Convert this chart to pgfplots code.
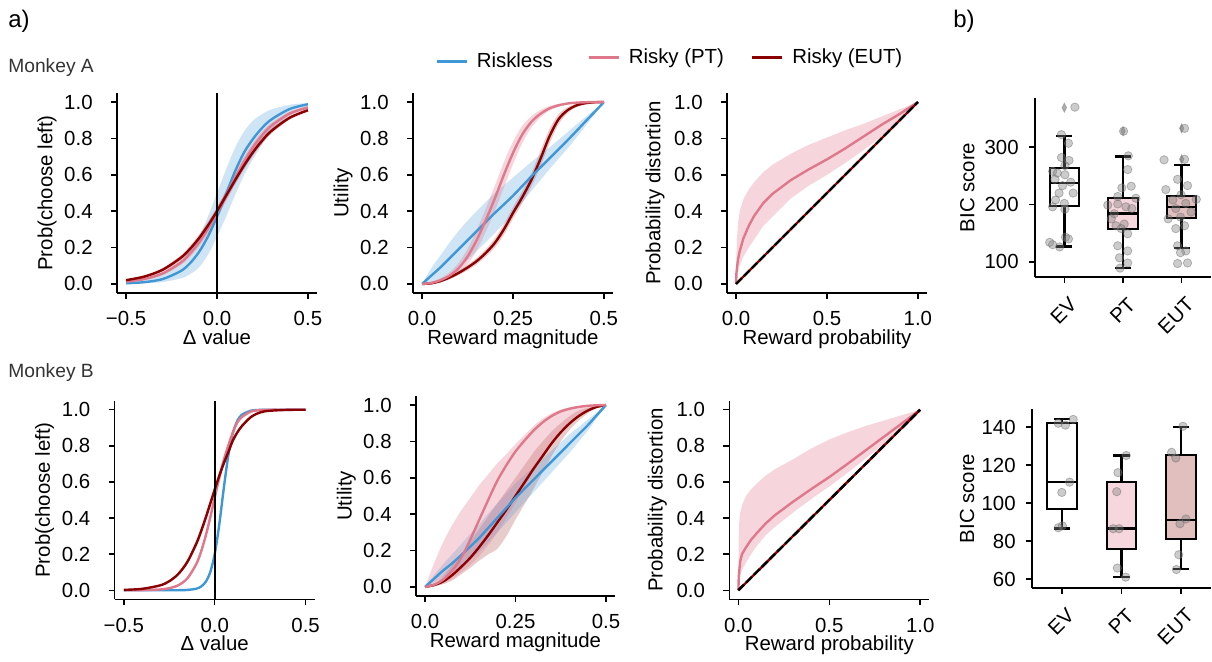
\documentclass[border=0pt]{standalone}
\usepackage{fontspec}
\setmainfont{Liberation Sans}
\usepackage{pgfplots}
\pgfplotsset{compat=1.18}
\usepackage{pgfplotstable}
\usepgfplotslibrary{fillbetween}
\definecolor{cblue}{HTML}{3F97D6}
\definecolor{cpink}{HTML}{E0788C}
\definecolor{cred}{HTML}{8B0000}
\definecolor{cgray}{HTML}{808080}
\newcommand{\fs}{\fontsize{10.2}{12}\selectfont}

\pgfplotstableread{
x blue blo bhi pink plo phi red rlo rhi
-0.5 0.0035 0.001 0.012 0.0125 0.0065 0.0185 0.0205 0.015 0.026
-0.4 0.0096 0.003 0.025 0.027 0.019 0.035 0.0402 0.033 0.047
-0.3 0.0264 0.010 0.055 0.057 0.047 0.067 0.0772 0.0675 0.087
-0.2 0.0703 0.030 0.12 0.117 0.102 0.132 0.143 0.129 0.157
-0.15 0.112 0.052 0.18 0.165 0.146 0.184 0.191 0.175 0.207
-0.1 0.174 0.09 0.26 0.226 0.2035 0.2485 0.250 0.231 0.269
-0.05 0.260 0.16 0.37 0.302 0.276 0.328 0.3206 0.299 0.342
0 0.370 0.26 0.50 0.390 0.361 0.419 0.400 0.377 0.423
0.05 0.495 0.37 0.63 0.486 0.456 0.516 0.4853 0.461 0.509
0.1 0.621 0.49 0.75 0.584 0.555 0.613 0.571 0.547 0.595
0.15 0.725 0.60 0.84 0.675 0.648 0.702 0.653 0.631 0.675
0.2 0.80 0.69 0.90 0.755 0.7315 0.7785 0.727 0.707 0.747
0.25 0.86 0.77 0.935 0.820 0.800 0.840 0.790 0.773 0.807
0.3 0.905 0.835 0.960 0.871 0.855 0.887 0.842 0.827 0.857
0.4 0.962 0.925 0.985 0.937 0.926 0.948 0.914 0.904 0.924
0.5 0.988 0.975 0.995 0.970 0.962 0.978 0.955 0.948 0.962
}\tabAone

\pgfplotstableread{
x blue blo bhi pink plo phi red rlo rhi
0 0 0 0 0 0 0 0 0 0
0.025 0.045 0.005 0.085 0.005 0.0 0.011 0.003 0.001 0.005
0.05 0.09 0.025 0.155 0.02 0.009 0.031 0.015 0.009 0.021
0.075 0.14 0.055 0.225 0.045 0.027 0.063 0.035 0.025 0.045
0.1 0.19 0.09 0.29 0.085 0.055 0.115 0.06 0.047 0.073
0.125 0.24 0.133 0.347 0.15 0.107 0.193 0.09 0.075 0.105
0.15 0.29 0.18 0.40 0.24 0.184 0.296 0.125 0.108 0.142
0.175 0.34 0.23 0.45 0.35 0.286 0.414 0.17 0.15 0.19
0.2 0.39 0.28 0.50 0.47 0.40 0.54 0.225 0.20 0.25
0.225 0.437 0.332 0.542 0.60 0.53 0.67 0.30 0.27 0.33
0.25 0.485 0.385 0.585 0.72 0.658 0.782 0.39 0.359 0.421
0.275 0.537 0.447 0.627 0.82 0.772 0.868 0.475 0.442 0.508
0.3 0.59 0.51 0.67 0.89 0.858 0.922 0.57 0.533 0.607
0.325 0.64 0.57 0.71 0.935 0.914 0.956 0.685 0.642 0.728
0.35 0.69 0.63 0.75 0.965 0.952 0.978 0.81 0.77 0.85
0.375 0.74 0.688 0.792 0.982 0.974 0.99 0.905 0.877 0.933
0.4 0.79 0.745 0.835 0.992 0.988 0.996 0.955 0.939 0.971
0.425 0.842 0.807 0.877 0.997 0.995 0.999 0.982 0.973 0.991
0.45 0.895 0.87 0.92 0.999 0.998 1.0 0.994 0.989 0.999
0.475 0.947 0.934 0.96 1.0 1.0 1.0 0.999 0.997 1.0
0.5 1 1 1 1 1 1 1 1 1
}\tabAtwo

\pgfplotstableread{
x pink plo phi
0 0 0 0
0.002 0.06 0.02 0.17
0.005 0.09 0.04 0.25
0.01 0.13 0.065 0.33
0.02 0.18 0.10 0.40
0.04 0.25 0.15 0.465
0.07 0.32 0.20 0.52
0.1 0.375 0.245 0.56
0.15 0.445 0.32 0.615
0.2 0.495 0.37 0.655
0.3 0.57 0.47 0.715
0.4 0.63 0.54 0.765
0.5 0.685 0.60 0.805
0.6 0.745 0.665 0.845
0.7 0.81 0.735 0.88
0.8 0.875 0.81 0.92
0.9 0.935 0.90 0.96
1 1 1 1
}\tabAthree

\pgfplotstableread{
x blue pink plo phi red rlo rhi
-0.5 0 0.0001 0.0001 0.0001 0.0022 0.002 0.0024
-0.4 0 0.0008 0.0007 0.0009 0.0078 0.007 0.0086
-0.3 0 0.0047 0.0042 0.0052 0.0271 0.0245 0.0297
-0.25 0.0001 0.0115 0.0104 0.0126 0.05 0.0452 0.0548
-0.2 0.0003 0.0279 0.0252 0.0306 0.0903 0.0821 0.0985
-0.15 0.0018 0.066 0.0598 0.0722 0.1578 0.1445 0.1711
-0.1 0.0091 0.148 0.1354 0.1606 0.2612 0.2419 0.2805
-0.075 0.0206 0.214 0.1972 0.2308 0.3268 0.3048 0.3488
-0.05 0.0458 0.2994 0.2784 0.3204 0.4001 0.3761 0.4241
-0.025 0.0988 0.4013 0.3773 0.4253 0.4781 0.4531 0.5031
0 0.2 0.5125 0.4875 0.5375 0.5572 0.5325 0.5819
0.025 0.3633 0.6225 0.599 0.646 0.6336 0.6104 0.6568
0.05 0.5656 0.7211 0.701 0.7412 0.7037 0.6829 0.7245
0.075 0.748 0.8022 0.7863 0.8181 0.7654 0.7474 0.7834
0.1 0.8714 0.875 0.8641 0.8859 0.83 0.8159 0.8441
0.125 0.9393 0.93 0.9235 0.9365 0.875 0.8641 0.8859
0.15 0.9725 0.96 0.9562 0.9638 0.91 0.9018 0.9182
0.2 0.9946 0.99 0.989 0.991 0.96 0.9562 0.9638
0.25 0.999 0.998 0.9978 0.9982 0.985 0.9835 0.9865
0.3 0.9998 1.0 1.0 1.0 0.994 0.9934 0.9946
0.4 1.0 1.0 1.0 1.0 0.999 0.9989 0.9991
0.5 1.0 1.0 1.0 1.0 1.0 1.0 1.0
}\tabBone

\pgfplotstableread{
x blue blo bhi pink plo phi red rlo rhi
0 0 0 0 0 0 0 0 0 0
0.025 0.045 0.025 0.065 0.012 0.005 0.13 0.01 0.004 0.02
0.05 0.09 0.055 0.125 0.04 0.02 0.245 0.03 0.015 0.06
0.075 0.13 0.08 0.18 0.09 0.045 0.34 0.065 0.035 0.12
0.1 0.175 0.115 0.235 0.16 0.08 0.42 0.11 0.07 0.18
0.125 0.222 0.152 0.292 0.26 0.12 0.49 0.16 0.105 0.25
0.15 0.27 0.195 0.345 0.37 0.17 0.56 0.22 0.145 0.32
0.175 0.325 0.245 0.405 0.48 0.23 0.62 0.285 0.18 0.39
0.2 0.38 0.30 0.46 0.585 0.30 0.68 0.355 0.21 0.46
0.225 0.435 0.355 0.515 0.67 0.38 0.73 0.425 0.28 0.53
0.25 0.49 0.41 0.57 0.745 0.46 0.785 0.50 0.37 0.60
0.275 0.54 0.465 0.615 0.805 0.55 0.835 0.575 0.455 0.67
0.3 0.59 0.52 0.66 0.86 0.64 0.885 0.65 0.54 0.74
0.325 0.64 0.575 0.705 0.905 0.72 0.925 0.72 0.63 0.80
0.35 0.69 0.63 0.75 0.94 0.79 0.955 0.79 0.72 0.855
0.375 0.74 0.685 0.795 0.965 0.85 0.975 0.85 0.80 0.90
0.4 0.79 0.74 0.84 0.98 0.9 0.988 0.9 0.865 0.94
0.425 0.84 0.80 0.88 0.99 0.94 0.995 0.94 0.915 0.97
0.45 0.89 0.86 0.92 0.996 0.97 0.999 0.97 0.955 0.985
0.475 0.945 0.93 0.96 0.999 0.99 1.0 0.99 0.985 0.995
0.5 1 1 1 1 1 1 1 1 1
}\tabBtwo

\pgfplotstableread{
x pink plo phi
0 0 0 0
0.002 0.07 0.02 0.30
0.005 0.11 0.05 0.38
0.01 0.16 0.08 0.43
0.02 0.20 0.11 0.47
0.04 0.235 0.15 0.52
0.07 0.28 0.20 0.56
0.1 0.315 0.245 0.59
0.15 0.37 0.305 0.635
0.2 0.415 0.35 0.67
0.3 0.49 0.43 0.725
0.4 0.56 0.505 0.785
0.5 0.627 0.575 0.835
0.6 0.70 0.65 0.875
0.7 0.775 0.73 0.91
0.8 0.85 0.81 0.94
0.9 0.925 0.9 0.97
1 1 1 1
}\tabBthree

\pgfplotsset{
  base/.style={scale only axis, axis lines=left, axis line style={-, line width=0.75pt},
    tick align=outside, major tick length=3pt, tick style={line width=0.75pt, black},
    every tick label/.append style={font=\fs},
    label style={font=\fs},
  },
  curve/.style={base, width=100pt, height=100pt, ymin=-0.05, ymax=1.05,
    xticklabel style={anchor=base, yshift=-13.5pt},
    yticklabel style={anchor=east, inner xsep=0pt, xshift=-9pt},
    ytick={0,0.2,0.4,0.6,0.8,1}, yticklabels={0.0,0.2,0.4,0.6,0.8,1.0},
    ylabel style={at={(axis description cs:-0.35,0.5)}, anchor=center},
    xlabel style={at={(axis description cs:0.5,-0.26)}, anchor=base},
  },
  psy/.style={curve, xmin=-0.55, xmax=0.55, xtick={-0.5,0,0.5}, xticklabels={−0.5,0.0,0.5},
    xlabel={Δ value}, ylabel={Prob(choose left)}},
  uti/.style={curve, xmin=-0.025, xmax=0.525, xtick={0,0.25,0.5}, xticklabels={0.0,0.25,0.5},
    xlabel={Reward magnitude}, ylabel={Utility}},
  prb/.style={curve, xmin=-0.05, xmax=1.05, xtick={0,0.5,1}, xticklabels={0.0,0.5,1.0},
    xlabel={Reward probability}, ylabel={Probability distortion},
    ylabel style={at={(axis description cs:-0.36,0.5)}}},
  bic/.style={base, xmin=-0.5, xmax=2.5, xtick={0,1,2}, xticklabels={EV,PT,EUT},
    xticklabel style={xshift=4.5pt, yshift=-9pt, rotate=45, anchor=east, inner sep=0pt},
    yticklabel style={anchor=east, inner xsep=0pt, xshift=-5pt},
    ylabel={BIC score}},
  ln/.style={line width=1.2pt, smooth, forget plot},
  wk/.style={black, line width=1.25pt, forget plot},
  bxf/.style={draw=black, line width=1pt, forget plot},
  pts/.style={only marks, mark=*, mark size=2.1pt, forget plot,
    mark options={fill=cgray, draw=cgray!85!black, fill opacity=0.4, draw opacity=0.45}},
  outl/.style={only marks, mark=diamond*, mark size=2.2pt, forget plot,
    mark options={xscale=0.65, fill=cgray!80, draw=cgray!80, opacity=0.8}},
  legimg/.style={legend image code/.code={\draw[##1] (0pt,0pt) -- (15pt,0pt);}},
}

\begin{document}
\begin{tikzpicture}
\path (0,0) rectangle (606pt,330pt);

\node[anchor=base west, inner sep=0pt, font=\fontsize{12}{14}\selectfont] at (4pt,316pt) {a)};
\node[anchor=base west, inner sep=0pt, font=\fontsize{12}{14}\selectfont] at (476.5pt,316pt) {b)};
\node[anchor=base west, inner sep=0pt, font=\fontsize{9.6}{11}\selectfont, text=black!80] at (4pt,293.5pt) {Monkey A};
\node[anchor=base west, inner sep=0pt, font=\fontsize{9.6}{11}\selectfont, text=black!80] at (4pt,141pt) {Monkey B};

% ---------- A1
\begin{axis}[psy, at={(58.5pt,183.5pt)}, anchor=south west]
\addplot[name path=bh, draw=none, smooth, forget plot] table[x=x,y=bhi] {\tabAone};
\addplot[name path=bl, draw=none, smooth, forget plot] table[x=x,y=blo] {\tabAone};
\addplot[fill=cblue, fill opacity=0.25, draw=none, forget plot] fill between[of=bh and bl];
\addplot[name path=ph, draw=none, smooth, forget plot] table[x=x,y=phi] {\tabAone};
\addplot[name path=pl, draw=none, smooth, forget plot] table[x=x,y=plo] {\tabAone};
\addplot[fill=cpink, fill opacity=0.3, draw=none, forget plot] fill between[of=ph and pl];
\addplot[name path=rh, draw=none, smooth, forget plot] table[x=x,y=rhi] {\tabAone};
\addplot[name path=rl, draw=none, smooth, forget plot] table[x=x,y=rlo] {\tabAone};
\addplot[fill=cred, fill opacity=0.2, draw=none, forget plot] fill between[of=rh and rl];
\addplot[ln, cblue] table[x=x,y=blue] {\tabAone};
\addplot[ln, cpink] table[x=x,y=pink] {\tabAone};
\addplot[ln, cred] table[x=x,y=red] {\tabAone};
\addplot[black, line width=1pt, forget plot] coordinates {(0,-0.05) (0,1.05)};
\end{axis}

% ---------- A2
\begin{axis}[uti, at={(206.5pt,183.5pt)}, anchor=south west, legimg,
  legend style={draw=none, fill=none, inner sep=0pt, font=\fs, at={(axis description cs:0.11,1.157)}, anchor=west,
   nodes={inner sep=0pt}, /tikz/every odd column/.style={column sep=4.5pt}}]
\addlegendimage{cblue, line width=1.2pt}\addlegendentry{Riskless}
\addplot[name path=rh, draw=none, smooth, forget plot] table[x=x,y=rhi] {\tabAtwo};
\addplot[name path=rl, draw=none, smooth, forget plot] table[x=x,y=rlo] {\tabAtwo};
\addplot[fill=cred, fill opacity=0.2, draw=none, forget plot] fill between[of=rh and rl];
\addplot[ln, cred] table[x=x,y=red] {\tabAtwo};
\addplot[name path=bh, draw=none, smooth, forget plot] table[x=x,y=bhi] {\tabAtwo};
\addplot[name path=bl, draw=none, smooth, forget plot] table[x=x,y=blo] {\tabAtwo};
\addplot[fill=cblue, fill opacity=0.25, draw=none, forget plot] fill between[of=bh and bl];
\addplot[ln, cblue] table[x=x,y=blue] {\tabAtwo};
\addplot[name path=ph, draw=none, smooth, forget plot] table[x=x,y=phi] {\tabAtwo};
\addplot[name path=pl, draw=none, smooth, forget plot] table[x=x,y=plo] {\tabAtwo};
\addplot[fill=cpink, fill opacity=0.3, draw=none, forget plot] fill between[of=ph and pl];
\addplot[ln, cpink] table[x=x,y=pink] {\tabAtwo};
\end{axis}

% ---------- A3
\begin{axis}[prb, at={(363.5pt,183.5pt)}, anchor=south west, legimg,
  legend columns=2,
  legend style={draw=none, fill=none, inner sep=0pt, font=\fs, at={(axis description cs:-0.70,1.178)}, anchor=west,
   nodes={inner sep=0pt}, /tikz/every odd column/.style={column sep=4.5pt}, /tikz/every even column/.style={column sep=13.5pt}}]
\addlegendimage{cpink, line width=1.2pt}\addlegendentry{Risky (PT)}
\addlegendimage{cred, line width=1.2pt}\addlegendentry{Risky (EUT)}
\addplot[name path=ph, draw=none, forget plot] table[x=x,y=phi] {\tabAthree};
\addplot[name path=pl, draw=none, forget plot] table[x=x,y=plo] {\tabAthree};
\addplot[fill=cpink, fill opacity=0.3, draw=none, forget plot] fill between[of=ph and pl];
\addplot[cpink, line width=1.2pt, forget plot] table[x=x,y=pink] {\tabAthree};
\addplot[cred, line width=1.2pt, forget plot] coordinates {(0,0) (1,1)};
\addplot[black, line width=1.2pt, dash pattern=on 4pt off 1.5pt, forget plot] coordinates {(0,0) (1,1)};
\end{axis}

% ---------- A4
\begin{axis}[bic, at={(517.5pt,191.5pt)}, anchor=south west, width=88pt, height=89.5pt,
  ymin=73.5, ymax=386, ytick={100,200,300}, yticklabels={100,200,300},
  ylabel style={at={(axis description cs:-0.384,0.5)}, anchor=center}]
% EV
\addplot[wk] coordinates {(0,127) (0,197)};
\addplot[wk] coordinates {(0,263) (0,320)};
\addplot[wk] coordinates {(-0.135,127) (0.135,127)};
\addplot[wk] coordinates {(-0.135,320) (0.135,320)};
\addplot[bxf, fill=white] coordinates {(-0.25,197) (0.25,197) (0.25,263) (-0.25,263)} -- cycle;
\addplot[wk] coordinates {(-0.25,238) (0.25,238)};
% PT
\addplot[wk] coordinates {(1,89) (1,157)};
\addplot[wk] coordinates {(1,211) (1,284)};
\addplot[wk] coordinates {(0.865,89) (1.135,89)};
\addplot[wk] coordinates {(0.865,284) (1.135,284)};
\addplot[bxf, fill=cpink!30!white] coordinates {(0.75,157) (1.25,157) (1.25,211) (0.75,211)} -- cycle;
\addplot[wk] coordinates {(0.75,184) (1.25,184)};
% EUT
\addplot[wk] coordinates {(2,124) (2,177)};
\addplot[wk] coordinates {(2,215) (2,269)};
\addplot[wk] coordinates {(1.865,124) (2.135,124)};
\addplot[wk] coordinates {(1.865,269) (2.135,269)};
\addplot[bxf, fill=cred!25!white] coordinates {(1.75,177) (2.25,177) (2.25,215) (1.75,215)} -- cycle;
\addplot[wk] coordinates {(1.75,196) (2.25,196)};
\addplot[outl] coordinates {(0,369) (1,328) (2,333) (2,279)};
\addplot[pts] coordinates {(0.18,370) (-0.05,322) (0.07,307) (-0.05,282) (0.08,277) (0.01,268) (-0.2,258) (-0.12,255) (0.01,252) (-0.16,244) (0.11,239) (-0.03,233) (-0.09,220) (0.15,220) (-0.15,208) (0.0,202) (0.01,192) (-0.2,196) (0.02,143) (0.07,140) (-0.25,134) (-0.08,126) (-0.2,130)};
\addplot[pts] coordinates {(1.01,328) (1.09,285) (1.08,261) (1.14,232) (0.98,229) (0.91,214) (1.22,211) (0.74,199) (0.91,201) (1.05,196) (1.15,193) (0.85,184) (0.8,175) (1.02,166) (0.88,163) (0.97,158) (1.08,149) (0.91,128) (1.08,119) (0.94,107) (1.08,98) (0.95,89)};
\addplot[pts] coordinates {(2.05,333) (1.7,278) (2.05,279) (1.93,244) (2.1,233) (1.73,226) (1.99,217) (2.25,209) (1.85,208) (2.07,202) (1.9,193) (2.16,187) (1.98,178) (1.77,175) (2.05,163) (1.9,158) (1.93,128) (2.07,119) (1.98,116) (2.1,98) (1.93,97)};
\end{axis}

% ---------- B1
\begin{axis}[psy, at={(57.35pt,30.35pt)}, anchor=south west, height=99.3pt]
\addplot[name path=ph, draw=none, smooth, forget plot] table[x=x,y=phi] {\tabBone};
\addplot[name path=pl, draw=none, smooth, forget plot] table[x=x,y=plo] {\tabBone};
\addplot[fill=cpink, fill opacity=0.3, draw=none, forget plot] fill between[of=ph and pl];
\addplot[name path=rh, draw=none, smooth, forget plot] table[x=x,y=rhi] {\tabBone};
\addplot[name path=rl, draw=none, smooth, forget plot] table[x=x,y=rlo] {\tabBone};
\addplot[fill=cred, fill opacity=0.2, draw=none, forget plot] fill between[of=rh and rl];
\addplot[ln, cblue] table[x=x,y=blue] {\tabBone};
\addplot[ln, cpink] table[x=x,y=pink] {\tabBone};
\addplot[ln, cred] table[x=x,y=red] {\tabBone};
\addplot[black, line width=1pt, forget plot] coordinates {(0,-0.05) (0,1.05)};
\end{axis}

% ---------- B2
\begin{axis}[uti, at={(208pt,32pt)}, anchor=south west, width=99.5pt]
\addplot[name path=rh, draw=none, smooth, forget plot] table[x=x,y=rhi] {\tabBtwo};
\addplot[name path=rl, draw=none, smooth, forget plot] table[x=x,y=rlo] {\tabBtwo};
\addplot[fill=cred, fill opacity=0.2, draw=none, forget plot] fill between[of=rh and rl];
\addplot[ln, cred] table[x=x,y=red] {\tabBtwo};
\addplot[name path=bh, draw=none, smooth, forget plot] table[x=x,y=bhi] {\tabBtwo};
\addplot[name path=bl, draw=none, smooth, forget plot] table[x=x,y=blo] {\tabBtwo};
\addplot[fill=cblue, fill opacity=0.25, draw=none, forget plot] fill between[of=bh and bl];
\addplot[ln, cblue] table[x=x,y=blue] {\tabBtwo};
\addplot[name path=ph, draw=none, smooth, forget plot] table[x=x,y=phi] {\tabBtwo};
\addplot[name path=pl, draw=none, smooth, forget plot] table[x=x,y=plo] {\tabBtwo};
\addplot[fill=cpink, fill opacity=0.3, draw=none, forget plot] fill between[of=ph and pl];
\addplot[ln, cpink] table[x=x,y=pink] {\tabBtwo};
\end{axis}

% ---------- B3
\begin{axis}[prb, at={(364.65pt,30.35pt)}, anchor=south west, height=99.3pt]
\addplot[name path=ph, draw=none, forget plot] table[x=x,y=phi] {\tabBthree};
\addplot[name path=pl, draw=none, forget plot] table[x=x,y=plo] {\tabBthree};
\addplot[fill=cpink, fill opacity=0.3, draw=none, forget plot] fill between[of=ph and pl];
\addplot[cpink, line width=1.2pt, forget plot] table[x=x,y=pink] {\tabBthree};
\addplot[cred, line width=1.2pt, forget plot] coordinates {(0,0) (1,1)};
\addplot[black, line width=1.2pt, dash pattern=on 4pt off 1.5pt, forget plot] coordinates {(0,0) (1,1)};
\end{axis}

% ---------- B4
\begin{axis}[bic, at={(516pt,36pt)}, anchor=south west, width=89.5pt, height=89.5pt,
  ymin=55.3, ymax=149.5, ytick={60,80,100,120,140}, yticklabels={60,80,100,120,140},
  ylabel style={at={(axis description cs:-0.363,0.5)}, anchor=center}]
% EV
\addplot[wk] coordinates {(0,86.5) (0,96.8)};
\addplot[wk] coordinates {(0,142.1) (0,144.2)};
\addplot[wk] coordinates {(-0.135,86.5) (0.135,86.5)};
\addplot[wk] coordinates {(-0.135,144.2) (0.135,144.2)};
\addplot[bxf, fill=white] coordinates {(-0.25,96.8) (0.25,96.8) (0.25,142.1) (-0.25,142.1)} -- cycle;
\addplot[wk] coordinates {(-0.25,111.1) (0.25,111.1)};
% PT
\addplot[wk] coordinates {(1,61) (1,76)};
\addplot[wk] coordinates {(1,110.9) (1,124.9)};
\addplot[wk] coordinates {(0.865,61) (1.135,61)};
\addplot[wk] coordinates {(0.865,124.9) (1.135,124.9)};
\addplot[bxf, fill=cpink!30!white] coordinates {(0.75,76) (1.25,76) (1.25,110.9) (0.75,110.9)} -- cycle;
\addplot[wk] coordinates {(0.75,86.5) (1.25,86.5)};
% EUT
\addplot[wk] coordinates {(2,65.3) (2,80.9)};
\addplot[wk] coordinates {(2,125.1) (2,140)};
\addplot[wk] coordinates {(1.865,65.3) (2.135,65.3)};
\addplot[wk] coordinates {(1.865,140) (2.135,140)};
\addplot[bxf, fill=cred!25!white] coordinates {(1.75,80.9) (2.25,80.9) (2.25,125.1) (1.75,125.1)} -- cycle;
\addplot[wk] coordinates {(1.75,91) (2.25,91)};
\addplot[pts] coordinates {(-0.06,142) (0.06,141) (0.19,144) (0.13,111) (0.0,105.6) (-0.06,87) (0.01,88)};
\addplot[pts] coordinates {(1.08,125) (0.94,116) (0.92,106) (0.86,86.5) (0.96,86.5) (0.93,65.8) (1.07,61)};
\addplot[pts] coordinates {(2.03,140.4) (1.84,126.7) (1.91,123.7) (2.08,91.6) (1.98,89.1) (1.96,72.8) (1.92,65)};
\end{axis}
\end{tikzpicture}
\end{document}
